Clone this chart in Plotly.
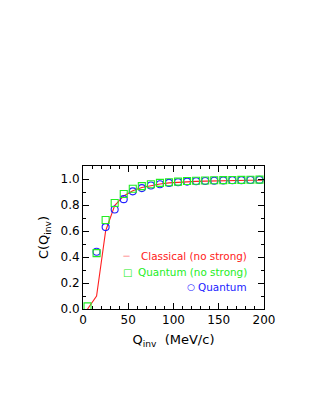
import plotly.graph_objects as go

q_pts = [5, 15, 25, 35, 45, 55, 65, 75, 85, 95, 105, 115, 125, 135, 145, 155, 165, 175, 185, 195]
quantum_nostrong = [0.02, 0.43, 0.685, 0.815, 0.885, 0.925, 0.945, 0.96, 0.97, 0.975,
                    0.98, 0.985, 0.987, 0.989, 0.99, 0.991, 0.992, 0.993, 0.994, 0.995]
q_quant = [15, 25, 35, 45, 55, 65, 75, 85, 95, 105, 115, 125, 135, 145, 155, 165, 175, 185, 195]
quantum = [0.44, 0.63, 0.765, 0.845, 0.905, 0.93, 0.95, 0.96, 0.97, 0.975,
           0.98, 0.983, 0.985, 0.987, 0.989, 0.99, 0.991, 0.992, 0.993]
q_line = [5, 15, 25, 35, 45, 55, 65, 75, 85, 95, 105, 115, 125, 135, 145, 155, 165, 175, 185, 195, 200]
classical = [0.0, 0.1, 0.6, 0.795, 0.87, 0.91, 0.935, 0.95, 0.962, 0.97, 0.975, 0.979,
             0.982, 0.984, 0.986, 0.987, 0.988, 0.989, 0.99, 0.99, 0.99]

legend_labels = ["Classical (no strong)", "Quantum (no strong)", "Quantum"]
legend_symbols = ["—", "□", "○"]

RED, GREEN, BLUE = "#ff2020", "#22ee22", "#2020ff"
FONT = "DejaVu Sans"

fig = go.Figure()
fig.add_trace(go.Scatter(x=q_line, y=classical, mode="lines",
                         line=dict(color=RED, width=1.1), showlegend=False))
fig.add_trace(go.Scatter(x=q_quant, y=quantum, mode="markers",
                         marker=dict(symbol="circle-open", size=7, color=BLUE, line=dict(width=1.1)),
                         showlegend=False))
fig.add_trace(go.Scatter(x=q_pts, y=quantum_nostrong, mode="markers",
                         marker=dict(symbol="square-open", size=7, color=GREEN, line=dict(width=1.1)),
                         showlegend=False))

legend_colors = [RED, GREEN, BLUE]
legend_y = [0.404, 0.284, 0.166]
sym_x = [48.5, 49, 119.5]
sym_size = [7, 10, 9]
for lab, sym, col, yv, sx, ss in zip(legend_labels, legend_symbols, legend_colors, legend_y, sym_x, sym_size):
    fig.add_annotation(x=183, y=yv, text=lab, showarrow=False, xanchor="right",
                       yanchor="middle", font=dict(family=FONT, size=10.4, color=col))
    fig.add_annotation(x=sx, y=yv, text=sym, showarrow=False, xanchor="center",
                       yanchor="middle", font=dict(family=FONT, size=ss, color=col))

axis_common = dict(showgrid=False, zeroline=False, showline=True, linecolor="black",
                   linewidth=1, mirror="allticks", ticks="inside", tickcolor="black",
                   ticklen=6, tickfont=dict(family=FONT, size=12, color="black"))

fig.update_xaxes(range=[0, 200], dtick=50, tick0=0,
                 minor=dict(dtick=10, ticks="inside", ticklen=3, tickcolor="black"),
                 title=dict(text="Q<sub>inv</sub>  (MeV/c)", font=dict(family=FONT, size=13, color="black"),
                            standoff=8),
                 **axis_common)
fig.update_yaxes(range=[0, 1.1], dtick=0.2, tick0=0, tickformat=".1f",
                 minor=dict(dtick=0.1, ticks="inside", ticklen=3, tickcolor="black"),
                 title=dict(text="C(Q<sub>inv</sub>)", font=dict(family=FONT, size=13, color="black"),
                            standoff=8),
                 **axis_common)

fig.update_layout(width=312, height=403, plot_bgcolor="white", paper_bgcolor="white",
                  margin=dict(l=83, r=48, t=166, b=94, pad=0),
                  font=dict(family=FONT))

fig.write_html("out.html", config={"displayModeBar": False},
               post_script="document.body.style.margin='0';document.body.style.overflow='hidden';")
